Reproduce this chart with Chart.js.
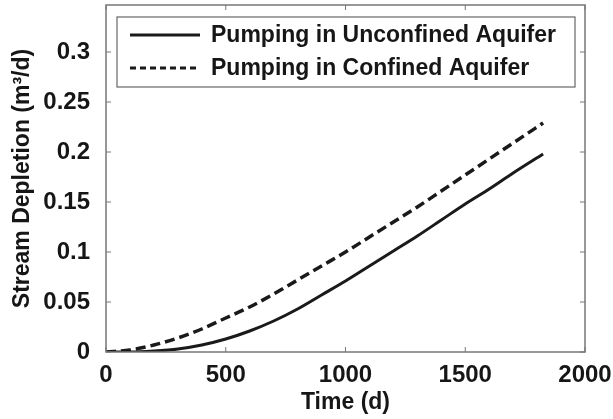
<!DOCTYPE html>
<html>
<head>
<meta charset="utf-8">
<script src="https://cdn.jsdelivr.net/npm/chart.js@4.4.0/dist/chart.umd.min.js"></script>
<style>
  body { margin: 0; background: #fff; }
  canvas { display: block; }
</style>
</head>
<body>
<canvas id="depletionChart" width="613" height="419"></canvas>
<script>
// values
const days = [0, 100, 200, 300, 400, 500, 600, 700, 800, 900, 1000, 1100, 1200, 1300, 1400, 1500, 1600, 1700, 1825];
const unconfined = [0, 0, 0.001, 0.003, 0.007, 0.013, 0.021, 0.031, 0.043, 0.057, 0.071, 0.086, 0.101, 0.116, 0.132, 0.148, 0.163, 0.179, 0.198];
const confined = [0, 0.002, 0.007, 0.014, 0.023, 0.034, 0.045, 0.058, 0.072, 0.086, 0.100, 0.115, 0.130, 0.145, 0.161, 0.177, 0.193, 0.209, 0.229];
const xTicks = [0, 500, 1000, 1500, 2000];
const yTicks = [0, 0.05, 0.1, 0.15, 0.2, 0.25, 0.3];

const fontFam = '"Liberation Sans", Arial, sans-serif';
const ink = '#1a1a1a';
const txt = '#161616';

function toPoints(ys) {
    return days.map((d, i) => ({ x: d, y: ys[i] }));
}

// box around the plot + inward ticks (matlab style)
const frame = {
    id: 'frame',
    afterDraw(chart) {
        const ctx = chart.ctx;
        const a = chart.chartArea;
        const xs = chart.scales.x, ys = chart.scales.y;
        ctx.save();
        ctx.strokeStyle = '#777';
        ctx.lineWidth = 1.5;
        ctx.strokeRect(a.left, a.top, a.right - a.left, a.bottom - a.top);
        ctx.lineWidth = 1;
        ctx.beginPath();
        xTicks.forEach(v => {
            const px = xs.getPixelForValue(v);
            ctx.moveTo(px, a.bottom); ctx.lineTo(px, a.bottom - 5);
            ctx.moveTo(px, a.top); ctx.lineTo(px, a.top + 5);
        });
        yTicks.forEach(v => {
            const py = ys.getPixelForValue(v);
            ctx.moveTo(a.left, py); ctx.lineTo(a.left + 5, py);
            ctx.moveTo(a.right, py); ctx.lineTo(a.right - 5, py);
        });
        ctx.stroke();
        ctx.restore();
    }
};

// legend drawn inside the axes, upper left
const insideLegend = {
    id: 'insideLegend',
    afterDraw(chart) {
        const ctx = chart.ctx;
        const a = chart.chartArea;
        const bx = a.left + 11, by = a.top + 12, bw = 458, bh = 70;
        ctx.save();
        ctx.fillStyle = '#fff';
        ctx.fillRect(bx, by, bw, bh);
        ctx.strokeStyle = '#666';
        ctx.lineWidth = 1.2;
        ctx.strokeRect(bx, by, bw, bh);
        chart.data.datasets.forEach((ds, i) => {
            const y = by + 18 + i * 33;
            ctx.strokeStyle = ds.borderColor;
            ctx.lineWidth = 3;
            ctx.setLineDash(i === 0 ? [] : [6, 4]);
            ctx.beginPath();
            ctx.moveTo(bx + 13, y);
            ctx.lineTo(bx + 83, y);
            ctx.stroke();
            ctx.setLineDash([]);
            ctx.fillStyle = txt;
            ctx.font = 'bold 23px ' + fontFam;
            ctx.textBaseline = 'middle';
            ctx.textAlign = 'left';
            ctx.fillText(ds.label, bx + 94, y + 1);
        });
        ctx.restore();
    }
};

new Chart(document.getElementById('depletionChart'), {
    type: 'line',
    data: {
        datasets: [{
            label: 'Pumping in Unconfined Aquifer',
            data: toPoints(unconfined),
            borderColor: ink,
            borderWidth: 3,
            pointRadius: 0,
            cubicInterpolationMode: 'monotone',
            fill: false
        }, {
            label: 'Pumping in Confined Aquifer',
            data: toPoints(confined),
            borderColor: ink,
            borderWidth: 3.5,
            borderDash: [10, 5],
            pointRadius: 0,
            cubicInterpolationMode: 'monotone',
            fill: false
        }]
    },
    options: {
        responsive: false,
        animation: false,
        layout: { padding: { left: 0, right: 28, top: 5, bottom: 0 } },
        plugins: {
            legend: { display: false },
            tooltip: { enabled: false }
        },
        scales: {
            x: {
                type: 'linear',
                min: 0,
                max: 2000,
                afterBuildTicks: s => { s.ticks = xTicks.map(v => ({ value: v })); },
                afterFit: s => { s.height = 67; s.paddingLeft = 0; s.paddingRight = 0; },
                grid: { display: false },
                border: { display: false },
                ticks: {
                    padding: 1,
                    color: txt,
                    font: { family: fontFam, size: 24, weight: 'bold' },
                    callback: v => String(v)
                },
                title: {
                    display: true,
                    text: 'Time (d)',
                    color: txt,
                    padding: { top: 0, bottom: 3 },
                    font: { family: fontFam, size: 23, weight: 'bold' }
                }
            },
            y: {
                type: 'linear',
                min: 0,
                max: 0.347,
                afterBuildTicks: s => { s.ticks = yTicks.map(v => ({ value: v })); },
                afterFit: s => { s.width = 106; s.paddingTop = 0; s.paddingBottom = 0; },
                grid: { display: false },
                border: { display: false },
                ticks: {
                    padding: 8,
                    color: txt,
                    font: { family: fontFam, size: 24, weight: 'bold' },
                    callback: v => String(v)
                },
                title: {
                    display: true,
                    text: 'Stream Depletion (m³/d)',
                    color: txt,
                    padding: { top: 9, bottom: 0 },
                    font: { family: fontFam, size: 23, weight: 'bold' }
                }
            }
        }
    },
    plugins: [frame, insideLegend]
});
</script>
</body>
</html>
